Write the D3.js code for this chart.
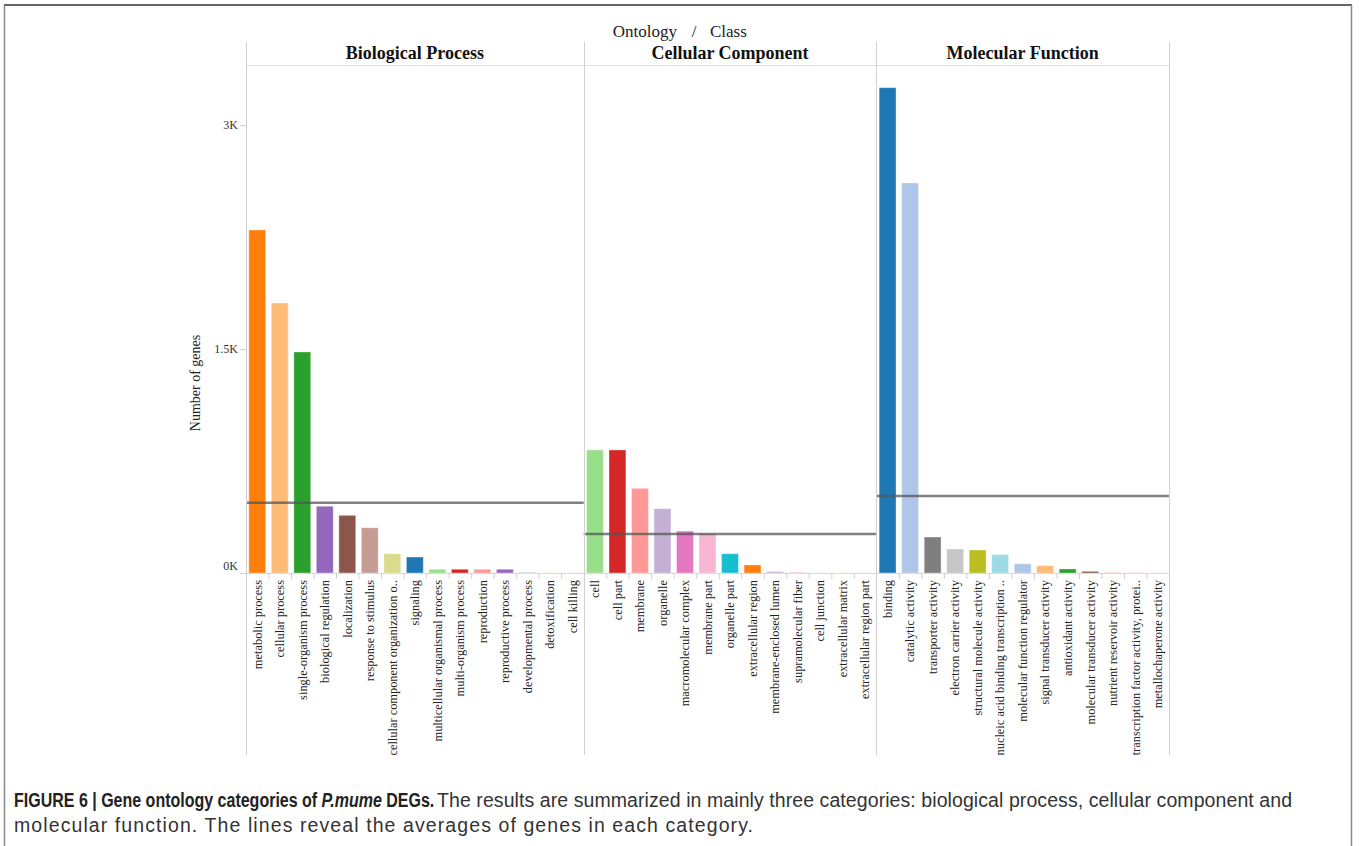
<!DOCTYPE html>
<html>
<head>
<meta charset="utf-8">
<script src="https://cdn.jsdelivr.net/npm/d3@7/dist/d3.min.js"></script>
<style>
  html, body { margin: 0; padding: 0; background: #fff; }
  svg { display: block; }
</style>
</head>
<body>
<svg id="chart" width="1359" height="846"></svg>
<script>
// Gene ontology classes and gene counts per class
const bpClasses = ["metabolic process", "cellular process", "single-organism process", "biological regulation",
  "localization", "response to stimulus", "cellular component organization o..", "signaling",
  "multicellular organismal process", "multi-organism process", "reproduction", "reproductive process",
  "developmental process", "detoxification", "cell killing"];
const bpCounts = [2297, 1808, 1480, 447, 386, 303, 129, 107, 25, 25, 25, 25, 5, 1, 1];
const bpColors = ["#ff7f0e", "#ffbb78", "#2ca02c", "#9467bd", "#8c564b", "#c49c94", "#dbdb8d", "#1f77b4",
  "#98df8a", "#d62728", "#ff9896", "#9467bd", "#c7c7c7", "#dbdb8d", "#c5b0d5"];

const ccClasses = ["cell", "cell part", "membrane", "organelle", "macromolecular complex", "membrane part",
  "organelle part", "extracellular region", "membrane-enclosed lumen", "supramolecular fiber",
  "cell junction", "extracellular matrix", "extracellular region part"];
const ccCounts = [824, 824, 567, 431, 281, 266, 129, 54, 10, 5, 1, 1, 1];
const ccColors = ["#98df8a", "#d62728", "#ff9896", "#c5b0d5", "#e377c2", "#f7b6d2", "#17becf", "#ff7f0e",
  "#c5b0d5", "#f7b6d2", "#c7c7c7", "#dbdb8d", "#9edae5"];

const mfClasses = ["binding", "catalytic activity", "transporter activity", "electron carrier activity",
  "structural molecule activity", "nucleic acid binding transcription ..", "molecular function regulator",
  "signal transducer activity", "antioxidant activity", "molecular transducer activity",
  "nutrient reservoir activity", "transcription factor activity, protei..", "metallochaperone activity"];
const mfCounts = [3250, 2612, 241, 161, 154, 123, 62, 49, 27, 11, 3, 3, 1];
const mfColors = ["#1f77b4", "#aec7e8", "#7f7f7f", "#c7c7c7", "#bcbd22", "#9edae5", "#aec7e8", "#ffbb78",
  "#2ca02c", "#8c564b", "#ff9896", "#f7b6d2", "#c5b0d5"];

const panelNames = ["Biological Process", "Cellular Component", "Molecular Function"];
const yTickValues = [0, 1500, 3000];
const yTickLabels = ["0K", "1.5K", "3K"];

const panels = [
  { name: panelNames[0], classes: bpClasses, counts: bpCounts, colors: bpColors },
  { name: panelNames[1], classes: ccClasses, counts: ccCounts, colors: ccColors },
  { name: panelNames[2], classes: mfClasses, counts: mfCounts, colors: mfColors }
];

const svg = d3.select("#chart");
const serif = "'Liberation Serif', 'Times New Roman', serif";
const sans = "'Liberation Sans', Arial, Helvetica, sans-serif";

// figure frame
svg.append("line").attr("x1", 4).attr("x2", 1352).attr("y1", 5).attr("y2", 5)
  .attr("stroke", "#333").attr("stroke-width", 1.5);
svg.append("line").attr("x1", 4.5).attr("x2", 4.5).attr("y1", 5).attr("y2", 846)
  .attr("stroke", "#888").attr("stroke-width", 1.5);
svg.append("line").attr("x1", 1351.5).attr("x2", 1351.5).attr("y1", 5).attr("y2", 846)
  .attr("stroke", "#888").attr("stroke-width", 1.5);

// plot geometry
const plotLeft = 246, plotRight = 1169;
const baseY = 573, topY = 65;
const dividerTop = 42, dividerBottom = 755;

const y = d3.scaleLinear().domain([0, 3000]).range([baseY, baseY - 448]);

// split horizontal extent by number of classes in each panel
const totalBands = d3.sum(panels, p => p.classes.length);
const stepW = (plotRight - plotLeft) / totalBands;
let cursor = plotLeft;
panels.forEach(p => {
  p.x0 = cursor;
  p.x1 = cursor + p.classes.length * stepW;
  cursor = p.x1;
  p.x = d3.scaleBand().domain(p.classes).range([p.x0, p.x1]).paddingInner(0.25).paddingOuter(0.125);
});

// column header title
const header = svg.append("g").attr("font-family", serif).attr("font-size", 17).attr("fill", "#222");
header.append("text").attr("x", 677).attr("y", 37).attr("text-anchor", "end").text("Ontology");
header.append("text").attr("x", 694).attr("y", 37).attr("text-anchor", "middle").text("/");
header.append("text").attr("x", 710).attr("y", 37).attr("text-anchor", "start").text("Class");

// header separator line
svg.append("line").attr("x1", plotLeft).attr("x2", plotRight).attr("y1", topY + 0.5).attr("y2", topY + 0.5)
  .attr("stroke", "#e2e2e2").attr("stroke-width", 1);

// x baseline
svg.append("line").attr("x1", plotLeft).attr("x2", plotRight).attr("y1", baseY + 0.5).attr("y2", baseY + 0.5)
  .attr("stroke", "#d6d6d6").attr("stroke-width", 1);

panels.forEach(p => {
  const g = svg.append("g");
  // panel title
  g.append("text").attr("x", (p.x0 + p.x1) / 2).attr("y", 59).attr("text-anchor", "middle")
    .attr("font-family", serif).attr("font-size", 18).attr("font-weight", "bold").attr("fill", "#111")
    .text(p.name);

  // bars
  g.selectAll("rect.bar").data(p.classes).join("rect")
    .attr("class", "bar")
    .attr("x", d => p.x(d))
    .attr("width", p.x.bandwidth())
    .attr("y", (d, i) => y(p.counts[i]))
    .attr("height", (d, i) => baseY - y(p.counts[i]))
    .attr("fill", (d, i) => p.colors[i])
    .attr("stroke", "#ffffff").attr("stroke-opacity", 0.35).attr("stroke-width", 1);

  // tick marks between classes
  const bounds = d3.range(1, p.classes.length).map(i => p.x0 + i * p.x.step());
  g.selectAll("line.tk").data(bounds).join("line")
    .attr("class", "tk")
    .attr("x1", d => d + 0.5).attr("x2", d => d + 0.5)
    .attr("y1", baseY).attr("y2", baseY + 6)
    .attr("stroke", "#d0d0d0");

  // rotated class labels
  g.selectAll("text.lbl").data(p.classes).join("text")
    .attr("class", "lbl")
    .attr("transform", d => `translate(${p.x(d) + p.x.bandwidth() / 2 + 4.3},${baseY + 7}) rotate(-90)`)
    .attr("text-anchor", "end")
    .attr("font-family", serif).attr("font-size", 12.4).attr("fill", "#222")
    .text(d => d);

  // category average line
  const avg = d3.mean(p.counts);
  g.append("line").attr("x1", p.x0).attr("x2", p.x1)
    .attr("y1", y(avg)).attr("y2", y(avg))
    .attr("stroke", "#555").attr("stroke-opacity", 0.75).attr("stroke-width", 2.5);
});

// panel dividers
const dividerXs = [plotLeft].concat(panels.map(p => p.x1));
svg.selectAll("line.div").data(dividerXs).join("line")
  .attr("class", "div")
  .attr("x1", d => Math.round(d) + 0.5).attr("x2", d => Math.round(d) + 0.5)
  .attr("y1", dividerTop).attr("y2", dividerBottom)
  .attr("stroke", "#d0d0d0").attr("stroke-width", 1);

// y axis
const yAxis = svg.append("g");
yTickValues.forEach((v, i) => {
  yAxis.append("line").attr("x1", plotLeft - 6).attr("x2", plotLeft)
    .attr("y1", y(v) + 0.5).attr("y2", y(v) + 0.5).attr("stroke", "#cfcfcf");
  yAxis.append("text").attr("x", plotLeft - 8).attr("y", v === 0 ? y(v) - 3 : y(v) + 4)
    .attr("text-anchor", "end").attr("font-family", serif).attr("font-size", 12).attr("fill", "#333")
    .text(yTickLabels[i]);
});
svg.append("text")
  .attr("transform", `translate(200,383) rotate(-90)`)
  .attr("text-anchor", "middle").attr("font-family", serif).attr("font-size", 14).attr("fill", "#222")
  .text("Number of genes");

// figure caption: condensed bold lead-in, then body text set to the column measure
const capLead = svg.append("text").attr("transform", "translate(14,807) scale(0.8,1)")
  .attr("font-family", sans).attr("font-size", 20).attr("font-weight", "bold").attr("fill", "#222");
capLead.append("tspan").text("FIGURE 6 | Gene ontology categories of ");
capLead.append("tspan").attr("font-style", "italic").text("P.mume");
capLead.append("tspan").text(" DEGs.");
svg.append("text").attr("x", 437).attr("y", 807).attr("font-family", sans).attr("font-size", 19.5).attr("fill", "#333")
  .attr("textLength", 855).attr("lengthAdjust", "spacing")
  .text("The results are summarized in mainly three categories: biological process, cellular component and");
svg.append("text").attr("x", 14).attr("y", 832).attr("font-family", sans).attr("font-size", 19.5).attr("fill", "#333")
  .attr("textLength", 739).attr("lengthAdjust", "spacing")
  .text("molecular function. The lines reveal the averages of genes in each category.");
</script>
</body>
</html>
